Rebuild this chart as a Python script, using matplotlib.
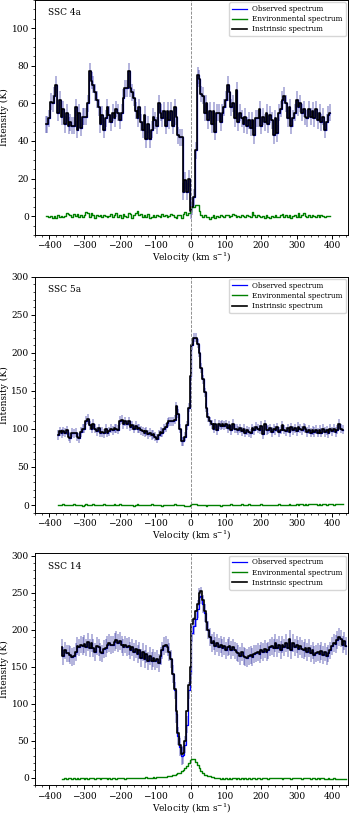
import numpy as np
import matplotlib
matplotlib.use('Agg')
import matplotlib.pyplot as plt

plt.rcParams['font.family'] = 'DejaVu Serif'
plt.rcParams['mathtext.fontset'] = 'dejavuserif'

# channel width (km/s) and first channel of each spectrum
dv = 5
v0_4a = -410
v0_5a = -375
v0_14 = -365

# SSC 4a
int_4a = [49, 49, 52, 61, 60, 64, 70, 55, 62, 53,
          57, 49, 55, 48, 50, 48, 48, 58, 46, 55,
          47, 53, 53, 53, 60, 77, 72, 70, 66, 62,
          58, 49, 54, 46, 52, 58, 54, 50, 55, 52,
          57, 55, 51, 55, 63, 68, 68, 77, 68, 66,
          63, 56, 52, 58, 50, 46, 54, 41, 49, 41,
          46, 53, 51, 48, 60, 55, 52, 56, 48, 56,
          51, 56, 48, 58, 53, 43, 42, 42, 13, 19,
          13, 20, 3, 5, 10, 35, 75, 73, 65, 64,
          55, 60, 51, 56, 49, 56, 45, 55, 55, 50,
          55, 58, 62, 70, 66, 58, 60, 52, 67, 50,
          55, 52, 49, 53, 48, 51, 47, 51, 43, 52,
          52, 57, 48, 53, 50, 55, 49, 54, 51, 43,
          52, 44, 55, 57, 62, 64, 60, 52, 58, 48,
          52, 55, 62, 58, 60, 55, 57, 53, 52, 57,
          53, 56, 52, 57, 51, 55, 50, 53, 46, 50,
          54, 55]
env_4a = [0.0, 0.2, -0.3, 0.1, -1.0, 0.2, -0.8, 0.5, -0.6, 0.1,
          -0.4, 0.3, 1.8, 1.2, 0.5, -0.5, 1.0, 0.3, 1.2, -0.2,
          0.8, -0.7, 0.4, 2.0, 1.5, -0.3, 1.8, 0.5, -0.8, 0.6,
          0.2, 0.6, -0.2, 0.4, 0.0, -0.5, 0.3, 1.2, -0.6, 0.6,
          1.6, -0.4, 0.6, -0.8, 1.2, 0.3, -0.4, 1.8, 0.9, -1.1,
          0.4, 1.5, 2.5, 0.5, 1.0, -0.3, 0.8, -0.5, 1.2, -1.2,
          -0.4, 0.6, -0.3, 0.4, 0.2, -0.6, 1.0, 0.3, 0.6, -0.4,
          0.2, 1.2, 0.8, -0.6, -1.0, 0.8, 0.5, -0.8, 1.0, 2.0,
          0.6, 1.5, 2.0, 4.8, 5.0, 5.8, 6.0, 2.5, 0.5, -0.5,
          0.8, -0.6, -0.5, -1.3, -0.7, 0.5, -0.8, 0.2, -0.5, 0.6,
          0.3, -0.2, 0.5, 0.8, -0.3, 0.2, 1.0, 0.4, -0.2, 0.3,
          -0.6, 0.4, 0.2, -0.4, 0.6, 0.3, -0.2, 2.0, 0.5, -0.3,
          0.6, 0.1, -0.5, 0.3, -0.8, 0.4, -0.2, -1.2, 0.2, -0.6,
          0.8, -0.7, -0.4, 0.5, 1.2, -0.3, 0.6, -0.5, 0.4, -0.9,
          0.2, 0.6, -0.4, 1.6, -0.6, 0.4, 1.8, 0.2, -0.7, 0.5,
          -0.4, 0.8, 0.3, -0.6, 0.4, -0.2, 0.6, 0.0, -0.3, 0.2,
          0.0, 0.3]
err_4a = 4.5

# SSC 5a
int_5a = [92, 97, 94, 97, 95, 98, 90, 88, 95, 94,
          95, 90, 88, 96, 100, 100, 111, 113, 105, 100,
          107, 100, 97, 101, 95, 96, 94, 100, 95, 97,
          100, 98, 101, 100, 99, 111, 112, 106, 110, 106,
          110, 103, 105, 100, 104, 100, 101, 98, 97, 95,
          97, 93, 95, 92, 93, 90, 87, 92, 96, 95,
          100, 102, 108, 110, 110, 110, 112, 130, 120, 100,
          84, 84, 90, 105, 128, 170, 210, 220, 220, 212,
          200, 180, 165, 148, 128, 115, 110, 106, 100, 107,
          98, 106, 104, 106, 104, 106, 101, 105, 98, 107,
          100, 100, 98, 101, 97, 100, 95, 98, 96, 94,
          101, 98, 103, 100, 99, 104, 93, 106, 98, 99,
          101, 96, 100, 98, 102, 96, 99, 105, 99, 97,
          101, 96, 102, 98, 101, 97, 103, 100, 98, 102,
          100, 96, 99, 95, 98, 96, 99, 95, 99, 95,
          100, 96, 98, 94, 100, 97, 100, 96, 99, 107,
          100, 99]
env_5a = [0.0, -0.5, 0.5, 0.8, -0.3, 0.6, 0.2, -0.4, 0.5, 1.0,
          0.3, -0.2, 0.6, 0.0, -0.8, 0.4, 1.2, 0.2, -0.5, 0.3,
          0.8, -0.3, 0.5, 0.1, -0.6, 0.4, 1.0, -0.2, 0.3, 0.6,
          -0.4, 0.2, 0.7, -0.5, 0.3, 1.1, 0.0, -0.6, 0.5, 0.2,
          -0.3, 0.6, 0.1, -0.7, 0.4, 0.9, -0.2, 0.3, -0.5, 0.2,
          0.5, -0.4, 0.1, 0.7, -0.6, 0.3, -0.2, 0.5, 0.0, -0.8,
          0.2, 0.6, -0.3, 0.4, -0.5, 0.1, 0.8, -0.2, 0.3, -0.6,
          0.0, 0.4, -0.8, -1.5, -1.0, 0.5, 1.5, 2.0, 1.2, 0.3,
          -0.5, 0.2, -0.3, 0.6, -0.8, -0.2, 0.4, -0.6, 0.1, 0.5,
          -0.4, 0.3, -0.9, 0.2, 0.6, -0.3, 0.4, -0.5, 0.8, 0.1,
          -0.2, 0.5, -0.6, 0.3, 0.9, -0.1, 0.4, -0.4, 0.7, 0.2,
          -0.5, 0.3, 0.6, -0.2, 0.4, 1.0, 0.2, -0.3, 0.5, 0.1,
          -0.4, 0.6, 0.2, -0.6, 0.3, 0.8, -0.1, 0.5, 0.0, -0.5,
          0.4, 0.7, 0.2, -0.3, 0.5, 0.9, 0.3, 1.4, 0.8, 0.2,
          1.2, 0.5, 0.8, 1.6, 0.9, 1.8, 1.0, 0.6, 1.2, 0.4,
          0.8, 1.1, 0.5, 0.9, 1.3, 0.7, 0.6, 1.0, 0.8, 1.2,
          0.7, 1.0]
err_5a = 6

# SSC 14
int_14 = [176, 165, 172, 168, 168, 166, 163, 165, 170, 178,
          176, 180, 178, 181, 176, 183, 175, 182, 175, 170,
          178, 176, 170, 168, 174, 175, 180, 182, 179, 180,
          183, 186, 182, 185, 180, 176, 180, 177, 178, 172,
          176, 170, 174, 167, 172, 162, 170, 160, 167, 158,
          165, 158, 162, 158, 160, 155, 165, 172, 178, 180,
          176, 170, 160, 140, 120, 90, 60, 45, 32, 33,
          50, 90, 125, 150, 208, 215, 225, 235, 250, 252,
          240, 225, 210, 200, 190, 182, 185, 178, 182, 177,
          180, 175, 178, 172, 176, 178, 173, 176, 172, 170,
          168, 165, 170, 165, 163, 162, 165, 166, 163, 167,
          168, 170, 167, 172, 170, 174, 170, 172, 176, 178,
          175, 182, 175, 180, 173, 180, 176, 182, 175, 188,
          172, 182, 176, 180, 174, 178, 174, 172, 175, 170,
          175, 168, 172, 166, 168, 170, 167, 171, 166, 170,
          165, 168, 172, 178, 182, 181, 186, 190, 188, 180,
          185, 178]
# observed spectrum differs from the intrinsic one only around the line centre
obs_14_core_v0 = -45
obs_14_core = [118, 86, 57, 42, 30, 31, 45, 72, 118, 140,
               195, 205, 215, 228, 244, 246, 235, 222]
env_14 = [-1.0, -2.0, -0.5, -1.5, -0.8, 0.2, -1.2, -0.6, -1.0, -0.3,
          -1.5, -0.8, -0.2, -1.0, -0.5, -1.2, -0.4, 0.0, -0.8, -1.4,
          -0.6, -0.2, -1.0, -0.5, 0.3, -0.8, -1.6, -0.4, -0.9, 0.0,
          -0.6, -1.2, -0.3, -0.7, 0.2, -0.5, -0.9, -0.2, -0.6, -0.3,
          -0.3, 0.2, -0.5, 0.0, 0.4, -0.2, 0.3, -0.4, 0.5, 0.2,
          0.0, 0.3, 0.5, 0.4, 0.8, 1.0, 0.8, 1.2, 1.5, 1.8,
          2.0, 2.5, 3.0, 3.5, 4.5, 5.0, 6.0, 7.0, 9.0, 11.0,
          13.0, 16.0, 20.0, 24.0, 26.0, 25.0, 22.0, 18.0, 13.0, 9.0,
          6.0, 4.5, 3.5, 3.0, 2.5, 1.5, 0.8, 0.3, -0.5, -0.2,
          -1.5, -0.6, -1.2, -0.3, -1.0, -0.5, -1.4, -0.2, -0.8, -1.0,
          -0.4, -1.2, -0.6, -0.9, -0.2, -1.0, -0.5, -1.3, -0.7, -0.4,
          -1.0, -0.3, -0.8, -1.2, -0.5, 0.0, -0.7, -1.0, -0.4, 0.2,
          -0.6, 0.4, -0.3, -0.8, -0.2, -1.0, -0.5, 0.0, -0.7, -0.4,
          -1.0, -0.3, -0.6, 0.2, -0.8, -0.5, -1.1, -0.2, -0.7, -0.4,
          -0.8, -1.2, -0.5, -0.2, -1.0, -0.6, -1.3, -0.8, -0.4, -1.0,
          -1.2, -0.7, -1.0, -1.4, -0.8, -1.1, -1.5, -1.0, -1.3, -0.9,
          -1.2, -1.0]
err_14 = 12

labels = ['SSC 4a', 'SSC 5a', 'SSC 14']
ylims = [(-10, 115), (-10, 300), (-10, 303)]
xlim = (-440, 445)

obs_14 = list(int_14)
k = (obs_14_core_v0 - v0_14) // dv
obs_14[k:k + len(obs_14_core)] = obs_14_core

panels = [
    (v0_4a, int_4a, int_4a, env_4a, err_4a),
    (v0_5a, int_5a, int_5a, env_5a, err_5a),
    (v0_14, obs_14, int_14, env_14, err_14),
]

fig = plt.figure(figsize=(3.5, 8.15), dpi=100)
boxes = [[0.1, 0.7117, 0.894, 0.2883],
         [0.1, 0.371, 0.894, 0.2895],
         [0.1, 0.0365, 0.894, 0.2845]]

for i, (v0, obs, intr, env, err) in enumerate(panels):
    ax = fig.add_axes(boxes[i])
    v = v0 + dv * np.arange(len(intr))
    ax.errorbar(v, obs, yerr=err, fmt='none', ecolor='darkblue',
                alpha=0.35, elinewidth=1.2)
    ax.plot(v, obs, drawstyle='steps-mid', color='blue', lw=0.9,
            label='Observed spectrum')
    ax.plot(v, env, drawstyle='steps-mid', color='green', lw=1.0,
            label='Environmental spectrum')
    ax.plot(v, intr, drawstyle='steps-mid', color='black', lw=1.2,
            label='Instrinsic spectrum')
    ax.axvline(0, color='grey', ls='--', lw=0.6)
    ax.set_xlim(xlim)
    ax.set_ylim(ylims[i])
    ax.minorticks_on()
    ax.tick_params(labelsize=6.5, length=3, width=0.7, pad=1.5)
    ax.tick_params(which='minor', length=1.6, width=0.5)
    for s in ax.spines.values():
        s.set_linewidth(0.7)
    ax.set_xlabel('Velocity (km s$^{-1}$)', fontsize=6.5, labelpad=0.5)
    ax.set_ylabel('Intensity (K)', fontsize=6.5, labelpad=2)
    ax.text(0.04, 0.965, labels[i], transform=ax.transAxes, fontsize=6.5,
            va='top', ha='left')
    ax.legend(loc='upper right', fontsize=5.2, handlelength=2.0,
              borderaxespad=0.3, borderpad=0.4, labelspacing=0.3,
              framealpha=0.8)

fig.savefig('out.png', dpi=100)
